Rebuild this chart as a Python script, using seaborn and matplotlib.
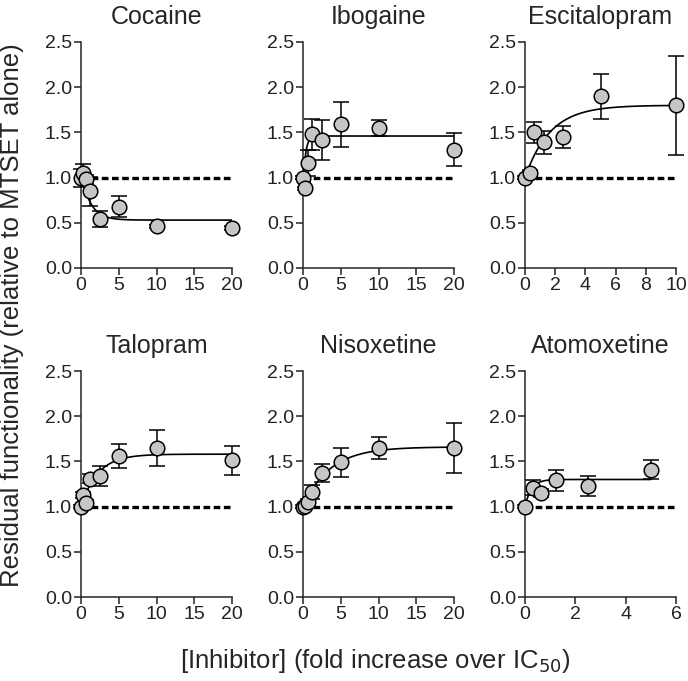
"""Residual functionality vs inhibitor concentration, six panels."""

import matplotlib

matplotlib.use("Agg")
import matplotlib.pyplot as plt
import numpy as np
import pandas as pd
import seaborn as sns

# fold increase over IC50 used for every drug
conc = [0, 0.3125, 0.625, 1.25, 2.5, 5, 10, 20]

drugs = ["Cocaine", "Ibogaine", "Escitalopram", "Talopram", "Nisoxetine", "Atomoxetine"]

cocaine_mean = [1.00, 1.05, 0.98, 0.85, 0.54, 0.68, 0.46, 0.44]
cocaine_err = [0.10, 0.10, 0.05, 0.16, 0.09, 0.12, 0.02, 0.02]
ibogaine_mean = [1.00, 0.88, 1.16, 1.48, 1.42, 1.59, 1.55, 1.31]
ibogaine_err = [0.02, 0.02, 0.14, 0.17, 0.22, 0.25, 0.09, 0.18]
escitalopram_mean = [1.00, 1.05, 1.50, 1.39, 1.45, 1.90, 1.80]
escitalopram_err = [0.02, 0.03, 0.12, 0.13, 0.12, 0.25, 0.55]
talopram_mean = [1.00, 1.13, 1.04, 1.31, 1.34, 1.56, 1.65, 1.51]
talopram_err = [0.02, 0.03, 0.03, 0.05, 0.11, 0.13, 0.20, 0.16]
nisoxetine_mean = [1.00, 1.01, 1.05, 1.16, 1.37, 1.49, 1.65, 1.65]
nisoxetine_err = [0.02, 0.02, 0.03, 0.08, 0.10, 0.16, 0.12, 0.28]
atomoxetine_mean = [1.00, 1.21, 1.15, 1.29, 1.23, 1.41]
atomoxetine_err = [0.02, 0.08, 0.04, 0.12, 0.11, 0.10]

means = [cocaine_mean, ibogaine_mean, escitalopram_mean,
         talopram_mean, nisoxetine_mean, atomoxetine_mean]
errs = [cocaine_err, ibogaine_err, escitalopram_err,
        talopram_err, nisoxetine_err, atomoxetine_err]

# one-phase exponential fit: start, plateau, rate
fit_y0 = [1.05, 0.90, 1.00, 1.00, 1.00, 1.00]
fit_plateau = [0.53, 1.46, 1.80, 1.58, 1.66, 1.30]
fit_k = [0.8, 3.0, 0.6, 0.45, 0.28, 4.0]

x_max = [20, 20, 10, 20, 20, 6]
x_step = [5, 5, 2, 5, 5, 2]

rows = []
for drug, m, e in zip(drugs, means, errs):
    for c, v, s in zip(conc, m, e):
        rows.append({"drug": drug, "conc": c, "value": v, "err": s})
df = pd.DataFrame(rows)

sns.set_theme(style="ticks")
plt.rcParams["font.family"] = ["Liberation Sans", "DejaVu Sans"]
plt.rcParams["axes.linewidth"] = 1.1
plt.rcParams["xtick.major.width"] = 1.1
plt.rcParams["ytick.major.width"] = 1.1
plt.rcParams["xtick.major.size"] = 5
plt.rcParams["ytick.major.size"] = 5
plt.rcParams["xtick.color"] = "#222222"
plt.rcParams["ytick.color"] = "#222222"

fig = plt.figure(figsize=(6.88, 6.81), dpi=100)
W, H = 688, 681
lefts = [81, 303, 525]
bottoms = [268, 597]
aw, ah = 151, 226

for i, drug in enumerate(drugs):
    r, c = divmod(i, 3)
    ax = fig.add_axes([lefts[c] / W, (H - bottoms[r]) / H, aw / W, ah / H])
    sub = df[df["drug"] == drug]

    # baseline (no change)
    ax.plot([0, x_max[i]], [1, 1], ls=(0, (2.0, 1.05)), color="black", lw=2.4,
            zorder=1, clip_on=False)

    xs = np.linspace(0, sub["conc"].max(), 300)
    fit = pd.DataFrame({
        "conc": xs,
        "value": fit_plateau[i] + (fit_y0[i] - fit_plateau[i]) * np.exp(-fit_k[i] * xs),
    })
    sns.lineplot(fit, x="conc", y="value", color="black", lw=1.2, ax=ax, zorder=2)

    ax.errorbar(sub["conc"], sub["value"], yerr=sub["err"], fmt="none",
                ecolor="black", elinewidth=1.1, capsize=6, capthick=1.1,
                zorder=3, clip_on=False)
    sns.scatterplot(sub, x="conc", y="value", s=110, color="#c6c6c6",
                    edgecolor="black", linewidth=1.1, zorder=4, clip_on=False,
                    ax=ax)

    ax.set_xlim(0, x_max[i])
    ax.set_ylim(0, 2.5)
    ax.set_xticks(np.arange(0, x_max[i] + 0.1, x_step[i]))
    ax.set_yticks(np.arange(0, 2.51, 0.5))
    ax.yaxis.set_major_formatter("{x:.1f}")
    ax.tick_params(labelsize=14, pad=1.5)
    ax.set_xlabel("")
    ax.set_ylabel("")
    ax.set_title(drug, fontsize=18, pad=13)
    sns.despine(ax=ax)

fig.text(12 / W, 1 - 315 / H, "Residual functionality (relative to MTSET alone)",
         rotation=90, ha="center", va="center", fontsize=18.5)
fig.text(375 / W, 1 - 661 / H, "[Inhibitor] (fold increase over IC$_{50}$)",
         ha="center", va="center", fontsize=18.5)

fig.savefig("out.png", dpi=100)
